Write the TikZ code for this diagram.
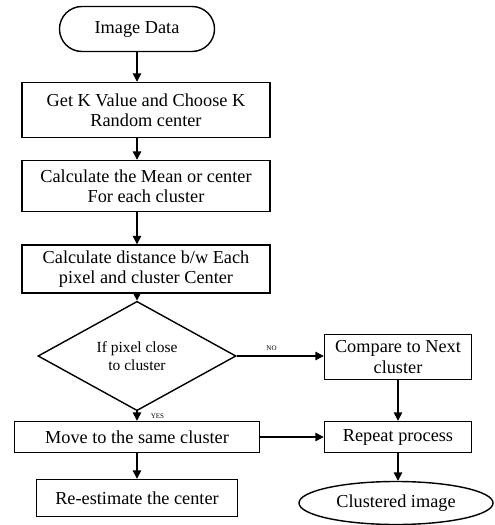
\documentclass[tikz,border=0pt]{standalone}
\usepackage{fontspec}
\setmainfont{Liberation Serif}
\usetikzlibrary{shapes.geometric,shapes.misc,arrows.meta}

\begin{document}
\begin{tikzpicture}[x=0.025cm, y=-0.025cm,
		box/.style = {draw, line width=1pt, align=center, inner sep=0pt, font=\fontsize{13}{14.5}\selectfont},
		arr/.style = {-{Triangle[length=6pt,width=6pt]}, line width=1pt}]
				\useasboundingbox (0,0) rectangle (494,525);
				\node (img) [box, rounded rectangle, minimum width=3.875cm, minimum height=1.125cm] at (137,29) {Image Data};
				\node (getk) [box, minimum width=6.2cm, minimum height=1.375cm] at (146,110) {Get K Value and Choose K\\Random center};
				\node (mean) [box, minimum width=6.2cm, minimum height=1.275cm] at (146,186) {Calculate the Mean or center\\For each cluster};
				\node (dist) [box, minimum width=6.2cm, minimum height=1.2cm] at (146,269) {Calculate distance b/w Each\\pixel and cluster Center};
				\node (close) [box, diamond, minimum width=4.95cm, minimum height=1.975cm, font=\fontsize{11}{12.5}\selectfont] at (137,356) {If pixel close\\to cluster};
				\node (next) [box, minimum width=3.675cm, minimum height=1.125cm] at (398,357) {Compare to Next\\cluster};
				\node (move) [box, minimum width=6.125cm, minimum height=0.775cm] at (137,437) {Move to the same cluster};
				\node (rep) [box, minimum width=3.675cm, minimum height=0.775cm] at (398,437) {Repeat process};
				\node (reest) [box, minimum width=5.025cm, minimum height=0.925cm] at (137,498) {Re-estimate the center};
				\node (out) [box, ellipse, minimum width=4.85cm, minimum height=1.075cm] at (396,503) {Clustered image};

				\draw[arr] (img.south) -- (img.south |- getk.north);
				\draw[arr] (img.south |- getk.south) -- (img.south |- mean.north);
				\draw[arr] (img.south |- mean.south) -- (img.south |- dist.north);
				\draw[arr] (close.north |- dist.south) -- (close.north);
				\draw[arr] (close.east) -- (next.west |- close.east) node[pos=0.4, above, font=\fontsize{5}{6}\selectfont] (no) {NO};
				\draw[arr] (close.south) -- (move.north) node[pos=0.55, right=6pt, font=\fontsize{5}{6}\selectfont] (yes) {YES};
				\draw[arr] (next.south) -- (rep.north);
				\draw[arr] (move.east) -- (rep.west);
				\draw[arr] (move.south) -- (reest.north);
				\draw[arr] (rep.south) -- (out.north -| rep.south);
			\end{tikzpicture}
\end{document}
